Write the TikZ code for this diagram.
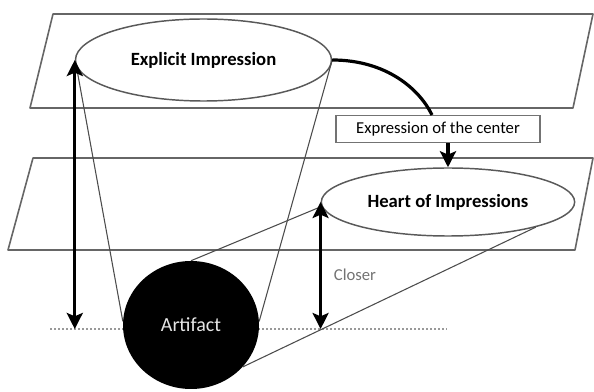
\documentclass[tikz,border=0pt]{standalone}
\usepackage{fontspec}
\setmainfont{Carlito}
\usetikzlibrary{arrows.meta, shapes.geometric}

\tikzset{
  plane/.style={draw=black!60, line width=1.2pt, line join=round},
  impression/.style={ellipse, draw=black!65, line width=1.1pt, fill=white, inner sep=0pt,
    font=\fontsize{14}{16}\selectfont\bfseries},
  coneline/.style={draw=black!70, line width=0.8pt},
  dimarrow/.style={line width=2.3pt, {Stealth[length=12pt,width=12pt,inset=2.5pt]}-{Stealth[length=12pt,width=12pt,inset=2.5pt]}},
  flowarrow/.style={line width=2.3pt, -{Stealth[length=12pt,width=12pt,inset=2.5pt]}},
}

\begin{document}
\begin{tikzpicture}[x=0.75pt, y=-0.75pt, font=\fontsize{12.5}{14}\selectfont]
  \useasboundingbox (0,0) rectangle (594,392);
  % the two planes
  \draw[plane] (53,14) -- (593,14) -- (573,108) -- (30,108) -- cycle;
  \draw[plane] (33,158) -- (593,158) -- (575,250) -- (8,250) -- cycle;
  % base line
  \coordinate (baseL) at (50,329);
  \coordinate (baseR) at (447,329);
  \draw[black!40, line width=1pt, dash pattern=on 1.5pt off 1.5pt] (baseL) -- (baseR);
  % impressions and artifact
  \node[impression, minimum width=192pt, minimum height=61.5pt] (explicit) at (203.5,60) {Explicit Impression};
  \node[impression, minimum width=190pt, minimum height=51pt] (heart) at (448,202) {Heart of Impressions};
  \node[draw=black!55, line width=1pt, fill=white, minimum width=153pt, minimum height=20pt, inner sep=0pt] (centerbox) at (438,129) {Expression of the center};
  \node[ellipse, fill=black, text=black!10, minimum width=102pt, minimum height=96pt, inner sep=0pt,
    font=\fontsize{15}{17}\selectfont] (artifact) at (191,325) {Artifact};
  \node[text=black!55] (closer) at (355,275) {Closer};
  % cones
  \draw[coneline] (explicit.183) -- (artifact.177);
  \draw[coneline] (explicit.east) -- (artifact.3);
  \draw[coneline] (heart.182) -- (artifact.north);
  \draw[coneline] (heart.-16) -- (artifact.-39);
  % arrows
  \draw[dimarrow] (explicit.west) -- (explicit.west |- baseL);
  \draw[dimarrow] (heart.west) -- (heart.west |- baseL);
  \draw[line width=2.4pt] (explicit.east) .. controls +(55,0) and +(-12,-25) .. ([xshift=-4.5pt]centerbox.north);
  \draw[flowarrow] (centerbox.south -| heart.north) -- (heart.north);
\end{tikzpicture}
\end{document}
